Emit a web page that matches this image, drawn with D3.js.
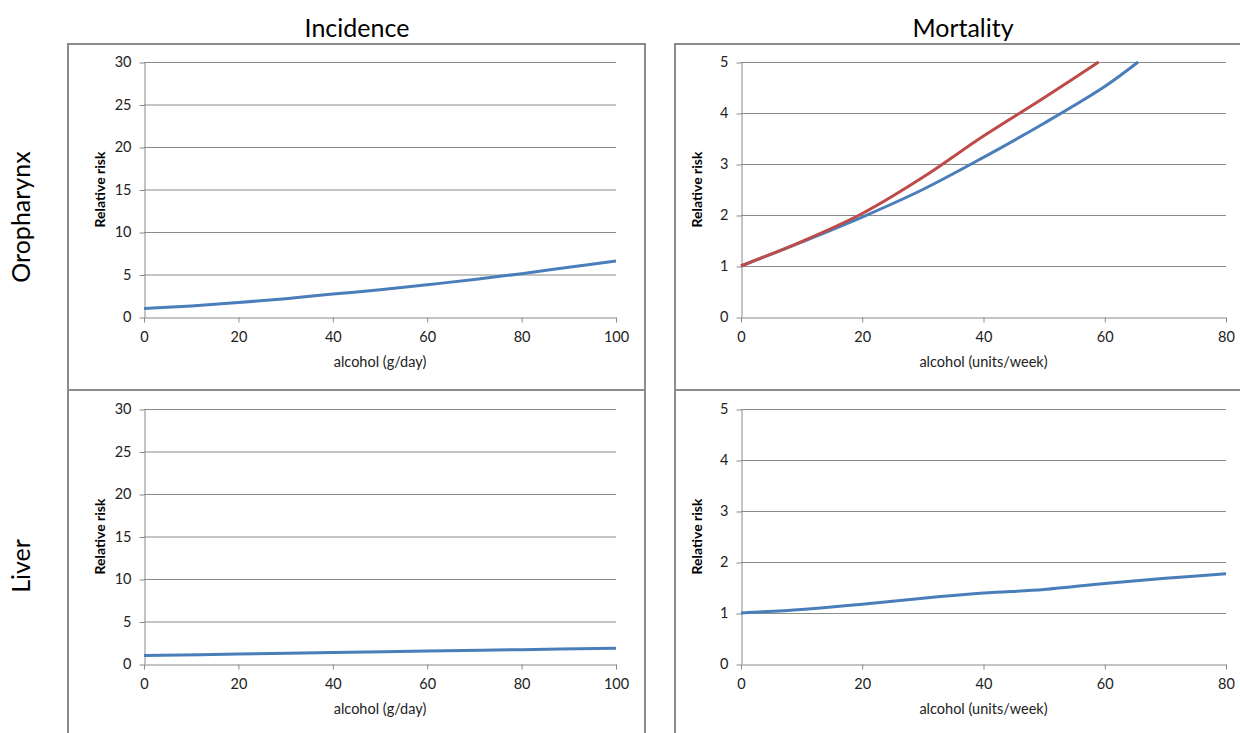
<!DOCTYPE html>
<html>
<head>
<meta charset="utf-8">
<script src="https://cdn.jsdelivr.net/npm/d3@7"></script>
<style>
  html, body { margin: 0; padding: 0; background: #fff; }
  svg { display: block; }
  text { font-family: Lato, "Open Sans", sans-serif; }
</style>
</head>
<body>
<svg id="chart" width="1240" height="733"></svg>
<script>
// ---- data ----
const columnTitles = ["Incidence", "Mortality"];
const rowTitles = ["Oropharynx", "Liver"];
const xTitles = ["alcohol (g/day)", "alcohol (units/week)"];
const yTitle = "Relative risk";

const incXTicks = [0, 20, 40, 60, 80, 100];
const incYTicks = [0, 5, 10, 15, 20, 25, 30];
const mortXTicks = [0, 20, 40, 60, 80];
const mortYTicks = [0, 1, 2, 3, 4, 5];

// Incidence, oropharynx
const incOroX = [0, 10, 20, 30, 40, 50, 60, 70, 80, 90, 100];
const incOroY = [1.0, 1.3, 1.7, 2.15, 2.7, 3.2, 3.8, 4.4, 5.1, 5.85, 6.6];
// Incidence, liver
const incLivX = [0, 20, 40, 60, 80, 100];
const incLivY = [1.0, 1.17, 1.35, 1.52, 1.69, 1.85];
// Mortality, oropharynx (blue, red)
const mortOroBlueX = [0, 10, 20, 30, 40, 50, 60, 65.5];
const mortOroBlueY = [1.0, 1.47, 1.96, 2.5, 3.13, 3.8, 4.52, 5.0];
const mortOroRedX = [0, 10, 20, 30, 40, 50, 59];
const mortOroRedY = [1.0, 1.48, 2.03, 2.74, 3.55, 4.3, 5.0];
// Mortality, liver
const mortLivX = [0, 10, 20, 30, 40, 50, 60, 70, 80];
const mortLivY = [1.0, 1.07, 1.17, 1.29, 1.39, 1.46, 1.58, 1.68, 1.77];

const BLUE = "#4A7EBB", RED = "#BE4B48";
const GRID = "#8a8a8a", BORDER = "#8c8c8c";

const svg = d3.select("#chart");

// panel boxes
const boxes = [
  {x0: 68, x1: 645, y0: 44, y1: 390},
  {x0: 675, x1: 1250, y0: 44, y1: 390},
  {x0: 68, x1: 645, y0: 390, y1: 745},
  {x0: 675, x1: 1250, y0: 390, y1: 745}
];
svg.append("g").selectAll("rect").data(boxes).join("rect")
  .attr("x", d => d.x0).attr("y", d => d.y0)
  .attr("width", d => d.x1 - d.x0).attr("height", d => d.y1 - d.y0)
  .attr("fill", "none").attr("stroke", BORDER).attr("stroke-width", 2);

// column titles
svg.append("text").attr("x", 357).attr("y", 37).attr("text-anchor", "middle")
  .attr("font-size", 25).attr("fill", "#000").text(columnTitles[0]);
svg.append("text").attr("x", 963).attr("y", 37).attr("text-anchor", "middle")
  .attr("font-size", 25).attr("fill", "#000").text(columnTitles[1]);

// row titles
[[rowTitles[0], 217], [rowTitles[1], 566]].forEach(([t, cy]) => {
  svg.append("text").attr("transform", `translate(30,${cy}) rotate(-90)`)
    .attr("text-anchor", "middle").attr("font-size", 25).attr("fill", "#000").text(t);
});

function panel(cfg) {
  const x = d3.scaleLinear().domain(cfg.xDomain).range([cfg.left, cfg.right]);
  const y = d3.scaleLinear().domain(cfg.yDomain).range([cfg.bottom, cfg.top]);
  const g = svg.append("g");
  const fmt = d3.format("d");

  // gridlines
  g.append("g").selectAll("line").data(cfg.yTicks.filter(v => v !== cfg.yDomain[0])).join("line")
    .attr("x1", cfg.left).attr("x2", cfg.right)
    .attr("y1", d => y(d) + 0.5).attr("y2", d => y(d) + 0.5)
    .attr("stroke", GRID).attr("stroke-width", 1);

  // y axis
  const yAx = g.append("g").attr("transform", `translate(${cfg.left + 0.5},0)`)
    .call(d3.axisLeft(y).tickValues(cfg.yTicks).tickFormat(fmt).tickSize(5).tickSizeOuter(0).tickPadding(8));
  yAx.select(".domain").attr("stroke", GRID);
  yAx.selectAll(".tick line").attr("stroke", GRID).attr("transform", "translate(0,0.5)");
  yAx.selectAll(".tick text").attr("font-size", 14.5).attr("fill", "#222")
    .attr("font-family", "Lato, 'Open Sans', sans-serif");

  // x axis
  const xAx = g.append("g").attr("transform", `translate(0,${cfg.bottom + 0.5})`)
    .call(d3.axisBottom(x).tickValues(cfg.xTicks).tickFormat(fmt).tickSize(5).tickSizeOuter(0).tickPadding(9));
  xAx.select(".domain").attr("stroke", GRID);
  xAx.selectAll(".tick line").attr("stroke", GRID);
  xAx.selectAll(".tick text").attr("font-size", 14.5).attr("fill", "#222")
    .attr("font-family", "Lato, 'Open Sans', sans-serif");

  // axis titles
  g.append("text").attr("x", (cfg.left + cfg.right) / 2).attr("y", cfg.bottom + 50)
    .attr("text-anchor", "middle").attr("font-size", 14.5).attr("fill", "#222").text(cfg.xTitle);
  g.append("text").attr("transform", `translate(${cfg.left - 39},${(cfg.top + cfg.bottom) / 2}) rotate(-90)`)
    .attr("text-anchor", "middle").attr("font-size", 14).attr("font-weight", "bold")
    .attr("fill", "#000").text(yTitle);

  // series
  const line = d3.line().x(d => x(d[0])).y(d => y(d[1])).curve(d3.curveCatmullRom.alpha(0.5));
  cfg.series.forEach(s => {
    const pts = s.xs.map((v, i) => [v, s.ys[i]]);
    g.append("path").datum(pts).attr("d", line)
      .attr("fill", "none").attr("stroke", s.color).attr("stroke-width", 3)
      .attr("stroke-linejoin", "round").attr("stroke-linecap", "butt");
  });
}

panel({left: 144, right: 616, top: 62, bottom: 317, xDomain: [0, 100], yDomain: [0, 30],
  xTicks: incXTicks, yTicks: incYTicks, xTitle: xTitles[0],
  series: [{xs: incOroX, ys: incOroY, color: BLUE}]});
panel({left: 741, right: 1226, top: 62, bottom: 317, xDomain: [0, 80], yDomain: [0, 5],
  xTicks: mortXTicks, yTicks: mortYTicks, xTitle: xTitles[1],
  series: [{xs: mortOroBlueX, ys: mortOroBlueY, color: BLUE},
           {xs: mortOroRedX, ys: mortOroRedY, color: RED}]});
panel({left: 144, right: 616, top: 409, bottom: 664, xDomain: [0, 100], yDomain: [0, 30],
  xTicks: incXTicks, yTicks: incYTicks, xTitle: xTitles[0],
  series: [{xs: incLivX, ys: incLivY, color: BLUE}]});
panel({left: 741, right: 1226, top: 409, bottom: 664, xDomain: [0, 80], yDomain: [0, 5],
  xTicks: mortXTicks, yTicks: mortYTicks, xTitle: xTitles[1],
  series: [{xs: mortLivX, ys: mortLivY, color: BLUE}]});
</script>
</body>
</html>
